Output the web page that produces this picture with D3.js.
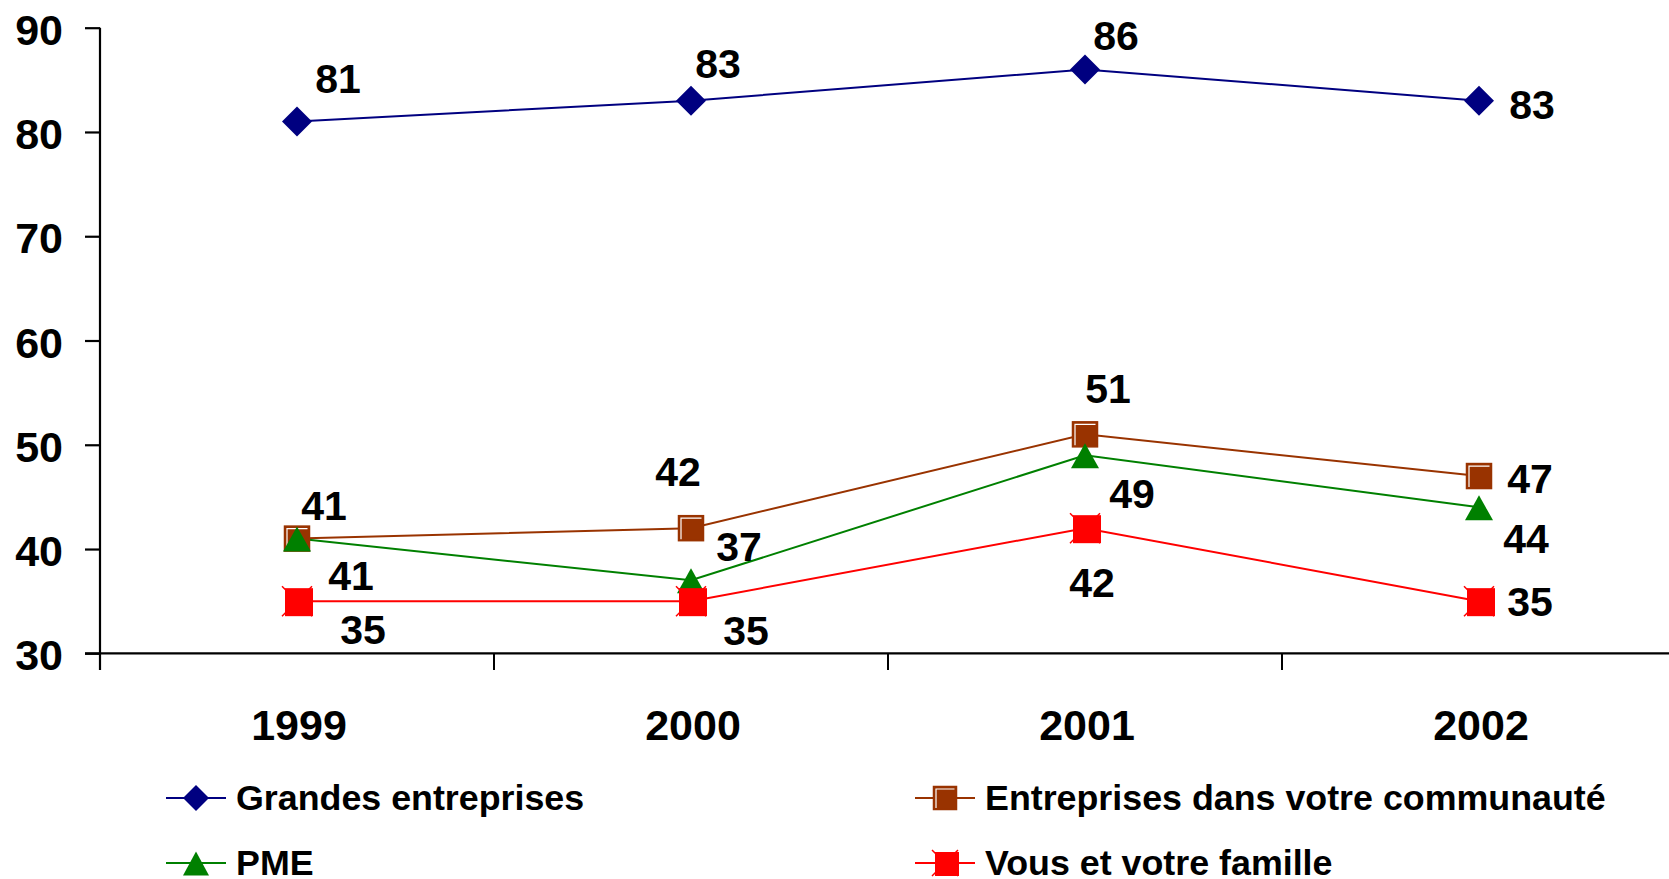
<!DOCTYPE html>
<html>
<head>
<meta charset="utf-8">
<script src="https://cdn.jsdelivr.net/npm/d3@7/dist/d3.min.js"></script>
<style>
  html, body { margin: 0; padding: 0; background: #fff; }
  svg { display: block; }
  text { font-family: "Liberation Sans", Arial, sans-serif; font-weight: bold; fill: #000; }
</style>
</head>
<body>
<svg id="chart" width="1669" height="879"></svg>
<script>
// ---- data ----
const years = ["1999", "2000", "2001", "2002"];
const grandes = [81, 83, 86, 83];
const communaute = [41, 42, 51, 47];
const pme = [41, 37, 49, 44];
const famille = [35, 35, 42, 35];
const yTicks = [30, 40, 50, 60, 70, 80, 90];
const seriesNames = ["Grandes entreprises", "Entreprises dans votre communauté", "PME", "Vous et votre famille"];

// label placement offsets (pixels, relative to each point) – layout only
const labelOffsets = {
  grandes:    [[41, -29], [27, -23], [31, -19], [53, 18]],
  communaute: [[27, -19], [-13, -42], [23, -31], [51, 17]],
  pme:        [[54, 51], [48, -19], [47, 53], [47, 46]],
  famille:    [[66, 43], [55, 44], [7, 69], [51, 15]]
};

const svg = d3.select("#chart");
const x = d3.scaleBand().domain(years).range([100, 1676]).padding(0);
const y = d3.scaleLinear().domain([30, 90]).range([653.3, 27.7]);
const cx = d => x(d) + x.bandwidth() / 2;

// ---- axes ----
const yAxis = svg.append("g").attr("transform", "translate(100,0)")
  .call(d3.axisLeft(y).tickValues(yTicks).tickSize(15).tickSizeOuter(0).tickFormat(d3.format("d")));
yAxis.select(".domain").remove();
yAxis.selectAll(".tick line").attr("stroke", "#000").attr("stroke-width", 2.2);
yAxis.selectAll(".tick text").attr("x", -37).attr("dy", null).attr("y", 16.5)
  .style("font-size", "43px").style("font-weight", "bold").style("font-family", '"Liberation Sans", Arial, sans-serif').attr("fill", "#000");
svg.append("line").attr("x1", 100).attr("x2", 100).attr("y1", y(90)).attr("y2", 670)
  .attr("stroke", "#000").attr("stroke-width", 2.2);

const xAxis = svg.append("g").attr("transform", `translate(0,${y(30)})`)
  .call(d3.axisBottom(x).tickSize(0).tickSizeOuter(0));
xAxis.select(".domain").remove();
xAxis.selectAll(".tick text").attr("y", 87).attr("dy", null).attr("dx", 2)
  .style("font-size", "43px").style("font-weight", "bold").style("font-family", '"Liberation Sans", Arial, sans-serif').attr("fill", "#000");
svg.append("line").attr("x1", 85).attr("x2", 1669).attr("y1", y(30)).attr("y2", y(30))
  .attr("stroke", "#000").attr("stroke-width", 2.2);
svg.append("g").selectAll("line").data(years.slice(1).concat(["end"])).join("line")
  .attr("x1", d => d === "end" ? 1676 : x(d)).attr("x2", d => d === "end" ? 1676 : x(d))
  .attr("y1", y(30)).attr("y2", 670).attr("stroke", "#000").attr("stroke-width", 2);

// ---- marker drawers ----
function diamond(g, px, py, h, color) {
  g.append("path").attr("d", `M${px},${py - h}L${px + h},${py}L${px},${py + h}L${px - h},${py}Z`).attr("fill", color);
}
function bevelSquare(g, px, py, s, color) {
  const x0 = px - s / 2, y0 = py - s / 2;
  g.append("rect").attr("x", x0).attr("y", y0).attr("width", s).attr("height", s)
    .attr("fill", color).attr("stroke", color).attr("stroke-width", 1.5);
  g.append("path").attr("d", `M${x0 + 2.5},${y0 + s - 1.5}V${y0 + 2.5}H${x0 + s - 2}`)
    .attr("fill", "none").attr("stroke", "#fff").attr("stroke-width", 1.2);
}
function triangle(g, px, py, w, h, color) {
  g.append("path").attr("d", `M${px},${py - h * 0.48}L${px + w / 2},${py + h * 0.52}L${px - w / 2},${py + h * 0.52}Z`).attr("fill", color);
}
function xSquare(g, px, py, s, color) {
  const a = s / 2 + 1;
  g.append("path").attr("d", `M${px - a},${py - a}L${px + a},${py + a}M${px - a},${py + a}L${px + a},${py - a}`)
    .attr("stroke", color).attr("stroke-width", 1.5);
  g.append("rect").attr("x", px - s / 2 + 2).attr("y", py - s / 2 + 1).attr("width", s).attr("height", s).attr("fill", color);
}

const series = [
  { key: "grandes", values: grandes, color: "#000080", marker: (g, px, py) => diamond(g, px, py, 15, "#000080") },
  { key: "communaute", values: communaute, color: "#993300", marker: (g, px, py) => bevelSquare(g, px, py, 25, "#993300") },
  { key: "pme", values: pme, color: "#008000", marker: (g, px, py) => triangle(g, px, py, 28, 25, "#008000") },
  { key: "famille", values: famille, color: "#FF0000", marker: (g, px, py) => xSquare(g, px, py, 28, "#FF0000") }
];

const line = d3.line().x((d, i) => cx(years[i])).y(d => y(d));

series.forEach(s => {
  svg.append("path").datum(s.values).attr("d", line)
    .attr("fill", "none").attr("stroke", s.color).attr("stroke-width", 2);
});
series.forEach(s => {
  const g = svg.append("g");
  s.values.forEach((v, i) => s.marker(g, cx(years[i]), y(v)));
});
// data labels
series.forEach(s => {
  svg.append("g").selectAll("text").data(s.values).join("text")
    .attr("x", (d, i) => cx(years[i]) + labelOffsets[s.key][i][0])
    .attr("y", (d, i) => y(d) + labelOffsets[s.key][i][1])
    .attr("text-anchor", "middle")
    .style("font-size", "41px")
    .text(d => d);
});

// ---- legend ----
const legendItems = [
  { name: seriesNames[0], color: "#000080", lx: 166, rowY: 798, draw: (g, px, py) => diamond(g, px, py, 13, "#000080") },
  { name: seriesNames[1], color: "#993300", lx: 915, rowY: 798, draw: (g, px, py) => bevelSquare(g, px, py, 23, "#993300") },
  { name: seriesNames[2], color: "#008000", lx: 166, rowY: 863, draw: (g, px, py) => triangle(g, px, py, 26, 24, "#008000") },
  { name: seriesNames[3], color: "#FF0000", lx: 915, rowY: 863, draw: (g, px, py) => xSquare(g, px, py, 24, "#FF0000") }
];
const lg = svg.append("g");
legendItems.forEach(it => {
  lg.append("line").attr("x1", it.lx).attr("x2", it.lx + 60).attr("y1", it.rowY).attr("y2", it.rowY)
    .attr("stroke", it.color).attr("stroke-width", 2);
  it.draw(lg, it.lx + 30, it.rowY);
  lg.append("text").attr("x", it.lx + 70).attr("y", it.rowY + 12)
    .style("font-size", "35.8px").text(it.name);
});
</script>
</body>
</html>
